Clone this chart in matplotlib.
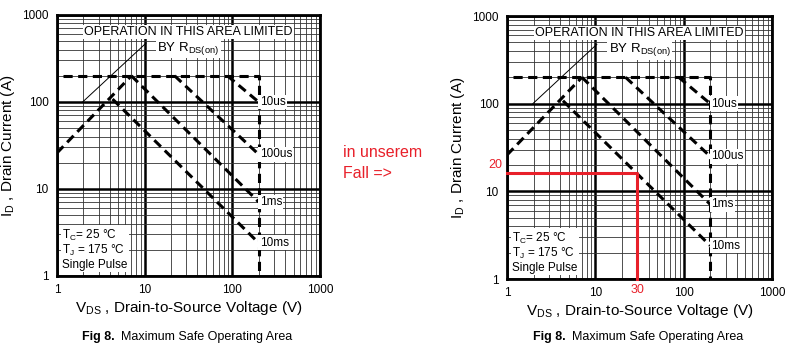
import matplotlib
matplotlib.use("Agg")
import matplotlib.pyplot as plt

plt.rcParams['font.family'] = ['Liberation Sans', 'DejaVu Sans']
plt.rcParams['mathtext.default'] = 'regular'

# SOA curves (V in volts, I in amps)
rds_v = [1, 7.06]
rds_i = [26, 200]
limit_v = [1.17, 200, 200]
limit_i = [200, 200, 1]
us10_v = [88, 200]
us10_i = [200, 100]
us100_v = [22, 200]
us100_i = [200, 25]
ms1_v = [7.06, 200]
ms1_i = [200, 7.1]
ms10_v = [4.3, 200]
ms10_i = [108, 2.4]
curve_labels = ['10us', '100us', '1ms', '10ms']
label_i = [100, 25, 7.1, 2.4]
leader_v = [1.96, 10.4]
leader_i = [100, 476]

# our operating point
op_v = [1, 30, 30]
op_i = [16, 16, 1]

xticks = [1, 10, 100, 1000]
yticks = [1, 10, 100, 1000]
RED = '#e8202a'

fig = plt.figure(figsize=(8.04, 3.64), dpi=100)


def panel(rect, caption_x):
    ax = fig.add_axes(rect)
    ax.set_xscale('log')
    ax.set_yscale('log')
    ax.set_xlim(1, 1000)
    ax.set_ylim(1, 1000)
    ax.set_xticks(xticks)
    ax.set_xticklabels([str(t) for t in xticks])
    ax.set_yticks(yticks)
    ax.set_yticklabels([str(t) for t in yticks])
    ax.tick_params(which='both', length=0, labelsize=8.5, pad=6)
    ax.grid(which='major', color='black', lw=1.8)
    ax.grid(which='minor', color='#333333', lw=0.6)
    for s in ax.spines.values():
        s.set_linewidth(2)
    ax.set_axisbelow(True)

    dash = dict(color='black', lw=2.2, dashes=(3, 1.8))
    ax.plot(rds_v, rds_i, **dash)
    ax.plot(limit_v, limit_i, **dash)
    for v, i in [(us10_v, us10_i), (us100_v, us100_i), (ms1_v, ms1_i), (ms10_v, ms10_i)]:
        ax.plot(v, i, **dash)
    box = dict(fc='white', ec='none', pad=1)
    for lab, i in zip(curve_labels, label_i):
        ax.text(205, i, lab, fontsize=8.5, va='center', ha='left', bbox=box, zorder=6)

    ax.plot(leader_v, leader_i, color='black', lw=0.7)
    ax.text(0.5, 0.935, 'OPERATION IN THIS AREA LIMITED', transform=ax.transAxes,
            fontsize=9, ha='center', va='center', bbox=box, zorder=6)
    ax.text(0.5, 0.872, r'BY R$_{DS(on)}$', transform=ax.transAxes,
            fontsize=9.5, ha='center', va='center', bbox=box, zorder=6)
    ax.text(0.02, 0.02, 'T$_{C}$= 25 °C\nT$_{J}$ = 175 °C\nSingle Pulse',
            transform=ax.transAxes, fontsize=8.5, ha='left', va='bottom',
            linespacing=1.05, bbox=box, zorder=6)

    ax.set_ylabel('I$_{D}$ , Drain Current (A)', fontsize=11, labelpad=4)
    ax.set_xlabel('V$_{DS}$ , Drain-to-Source Voltage (V)', fontsize=11, labelpad=2)
    fig.text(caption_x, 0.075, 'Fig 8.', fontsize=9, fontweight='bold',
             ha='left', va='center')
    fig.text(caption_x + 0.048, 0.075, 'Maximum Safe Operating Area',
             fontsize=9, ha='left', va='center')
    return ax


left = panel([0.0709, 0.2418, 0.327, 0.717], 0.102)
right = panel([0.6306, 0.2335, 0.3296, 0.7225], 0.663)

right.plot(op_v, op_i, color=RED, lw=2.2, clip_on=False, zorder=5)
right.text(0.88, 20, '20', color=RED, fontsize=9, ha='right', va='center')
right.text(30, 0.74, '30', color=RED, fontsize=9, ha='center', va='center')

fig.text(0.427, 0.552, 'in unserem\nFall =>', color=RED, fontsize=11.5,
         ha='left', va='center', linespacing=1.5)

fig.savefig('out.png', dpi=100)
